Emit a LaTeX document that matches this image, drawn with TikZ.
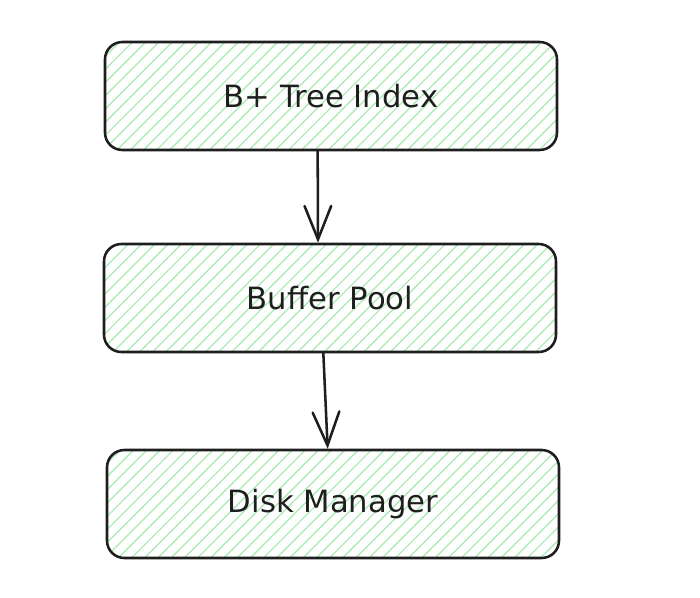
\documentclass[tikz,border=0pt]{standalone}
\usepackage{fontspec}
\setmainfont{DejaVu Sans}
\usetikzlibrary{arrows.meta, patterns.meta}
\definecolor{hatchgreen}{HTML}{A6EAB0}
\definecolor{inkdark}{HTML}{1E1E1E}

\begin{document}
\begin{tikzpicture}[x=0.75pt,y=-0.75pt,>={Straight Barb[length=25pt,width=20pt,line cap=round]},
        layerbox/.style={draw=inkdark, line width=1.9pt, rounded corners=13pt,
            minimum width=339pt, minimum height=81pt,
            pattern={Lines[angle=45,distance=7pt,line width=0.9pt]}, pattern color=hatchgreen,
            font=\fontsize{23}{27}\selectfont, text=inkdark},
        flow/.style={->, draw=inkdark, line width=1.9pt, line cap=round}]
        % page frame, white like the reference
        \useasboundingbox[fill=white] (0,0) rectangle (700,597);

        % the three layers
        \node[layerbox] (index)  at (331,96)  {B+ Tree Index};
        \node[layerbox] (pool)   at (330,298) {Buffer Pool};
        \node[layerbox] (disk)   at (333,504) {Disk Manager};

        % the calls going down
        \draw[flow] ([xshift=-10pt]index.south) -- ([xshift=-9pt]pool.north);
        \draw[flow] ([xshift=-5pt]pool.south) -- ([xshift=-4pt]disk.north);
\end{tikzpicture}
\end{document}
